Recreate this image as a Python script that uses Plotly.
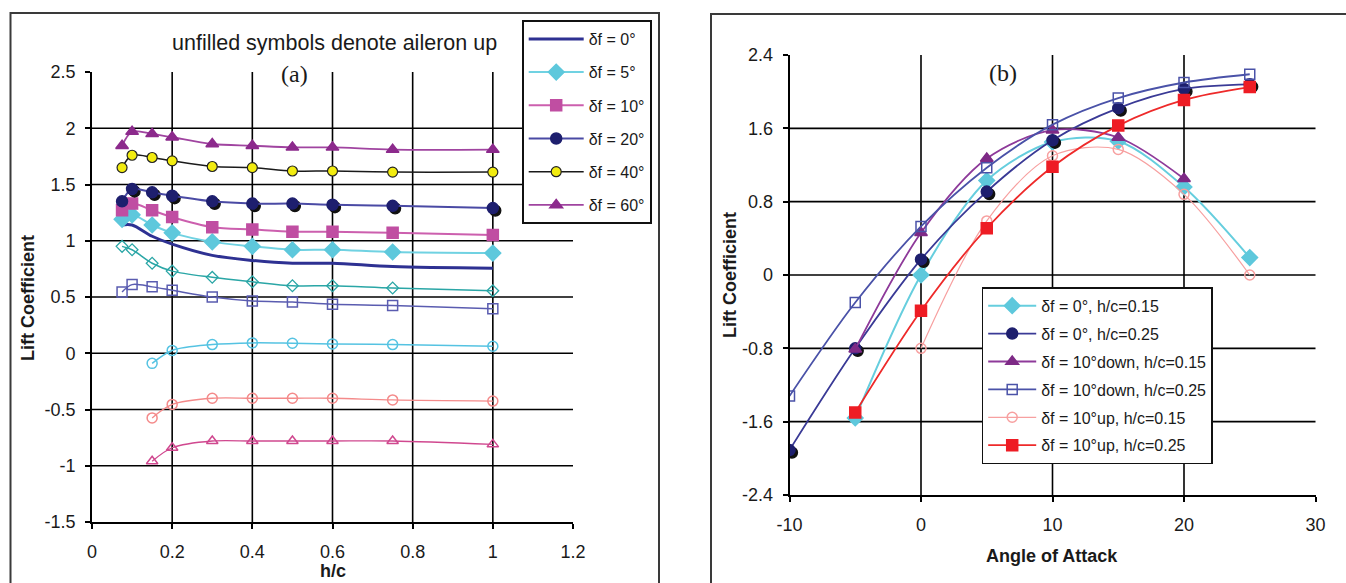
import plotly.graph_objects as go

# ---------------- panel (a): lift coefficient vs ground clearance h/c ----------------
hc = [0.075, 0.1, 0.15, 0.2, 0.3, 0.4, 0.5, 0.6, 0.75, 1.0]
hc_up = [0.15, 0.2, 0.3, 0.4, 0.5, 0.6, 0.75, 1.0]

cl_df0 = [1.14, 1.14, 1.04, 0.97, 0.87, 0.825, 0.80, 0.80, 0.77, 0.755]
cl_df5 = [1.19, 1.23, 1.14, 1.07, 0.99, 0.95, 0.92, 0.92, 0.90, 0.89]
cl_df10 = [1.27, 1.33, 1.27, 1.21, 1.12, 1.10, 1.08, 1.08, 1.07, 1.05]
cl_df20 = [1.35, 1.46, 1.43, 1.40, 1.35, 1.33, 1.33, 1.32, 1.31, 1.29]
cl_df40 = [1.65, 1.76, 1.74, 1.71, 1.66, 1.65, 1.62, 1.62, 1.61, 1.61]
cl_df60 = [1.845, 1.97, 1.95, 1.92, 1.86, 1.845, 1.83, 1.83, 1.81, 1.81]

# aileron up (unfilled symbols)
cl_up5 = [0.95, 0.92, 0.80, 0.73, 0.675, 0.635, 0.60, 0.60, 0.58, 0.555]
cl_up10 = [0.545, 0.61, 0.59, 0.56, 0.50, 0.465, 0.455, 0.435, 0.425, 0.395]
cl_up20 = [-0.09, 0.025, 0.077, 0.092, 0.089, 0.083, 0.077, 0.062]
cl_up40 = [-0.575, -0.455, -0.40, -0.40, -0.40, -0.40, -0.415, -0.425]
cl_up60 = [-0.96, -0.84, -0.78, -0.78, -0.78, -0.78, -0.78, -0.81]

a_xticks = [0, 0.2, 0.4, 0.6, 0.8, 1.0, 1.2]
a_xlabels = ["0", "0.2", "0.4", "0.6", "0.8", "1", "1.2"]
a_yticks = [-1.5, -1.0, -0.5, 0, 0.5, 1.0, 1.5, 2.0, 2.5]
a_ylabels = ["-1.5", "-1", "-0.5", "0", "0.5", "1", "1.5", "2", "2.5"]

# ---------------- panel (b): lift coefficient vs angle of attack ----------------
aoa_a = [-5, 0, 5, 10, 15, 20, 25]
aoa_b = [-10, -5, 0, 5, 10, 15, 20, 25]
aoa_c = [-5, 0, 5, 10, 15, 20]
aoa_d = [0, 5, 10, 15, 20, 25]

cl_b_f0_h15 = [-1.56, 0.0, 1.03, 1.45, 1.46, 0.96, 0.19]
cl_b_f0_h25 = [-1.91, -0.80, 0.17, 0.91, 1.47, 1.82, 2.03, 2.08]
cl_b_dn_h15 = [-0.81, 0.46, 1.27, 1.58, 1.50, 1.05]
cl_b_dn_h25 = [-1.32, -0.30, 0.53, 1.17, 1.64, 1.93, 2.10, 2.19]
cl_b_up_h15 = [-0.80, 0.59, 1.30, 1.37, 0.88, 0.0]
cl_b_up_h25 = [-1.50, -0.39, 0.51, 1.18, 1.63, 1.91, 2.05]

b_xticks = [-10, 0, 10, 20, 30]
b_xlabels = ["-10", "0", "10", "20", "30"]
b_yticks = [-2.4, -1.6, -0.8, 0, 0.8, 1.6, 2.4]
b_ylabels = ["-2.4", "-1.6", "-0.8", "0", "0.8", "1.6", "2.4"]

# ---------------- page geometry (pixels) ----------------
W, H = 1346, 583
A_X = (92, 573)
A_Y = (72, 522)
B_X = (789.5, 1315.5)
B_Y = (55, 495)
A_XR, A_YR = (0, 1.2), (-1.5, 2.5)
B_XR, B_YR = (-10, 30), (-2.4, 2.4)


def px(x):
    return x / W


def py(y):
    return 1 - y / H


def shift(vals, pixels, rng, span):
    """Move values by a fixed number of screen pixels (used for drop shadows)."""
    return [v + pixels * (rng[1] - rng[0]) / span for v in vals]


FONT = "Arial, Liberation Sans, sans-serif"
fig = go.Figure()


def add(x, y, axes, name=None, color="#000", lw=2, symbol=None, size=10,
        fill=None, mline=None, mlw=1.5, legend=None):
    mode = "lines+markers" if symbol else "lines"
    marker = None
    if symbol:
        marker = dict(symbol=symbol, size=size, color=fill if fill else color,
                      line=dict(color=mline if mline else color, width=mlw))
    fig.add_trace(go.Scatter(
        x=x, y=y, mode=mode, name=name or "",
        line=dict(color=color, width=lw, shape="spline", smoothing=0.9),
        marker=marker, xaxis=axes[0], yaxis=axes[1],
        showlegend=legend is not None, legend=legend or "legend",
        legendgroup=name if legend else None,
        hoverinfo="skip",
    ))


def shadow(x, y, axes, xr, yr, xs, ys, symbol, size, open_=False):
    fig.add_trace(go.Scatter(
        x=shift(x, 2.5, xr, xs[1] - xs[0]), y=shift(y, -2.5, yr, ys[1] - ys[0]),
        mode="markers", xaxis=axes[0], yaxis=axes[1], showlegend=False,
        marker=dict(symbol=symbol, size=size,
                    color="rgba(0,0,0,0)" if open_ else "#111",
                    line=dict(color="#111", width=1.3)),
        hoverinfo="skip",
    ))


A = ("x", "y")
B = ("x2", "y2")

# ---- panel (a), aileron up (unfilled) ----
add(hc, cl_up5, A, color="#2aa6a6", lw=1.5, symbol="diamond-open", size=9, mlw=1.3)
add(hc, cl_up10, A, color="#5a5cb0", lw=1.5, symbol="square-open", size=10, mline="#3548b0", mlw=1.5)
shadow(hc_up, cl_up20, A, A_XR, A_YR, A_X, A_Y, "circle-open", 10, open_=True)
add(hc_up, cl_up20, A, color="#55c3e2", lw=1.5, symbol="circle-open", size=10, mline="#3ab8de", mlw=1.5)
add(hc_up, cl_up40, A, color="#f48a8a", lw=1.3, symbol="circle-open", size=10, mline="#ff7a3a", mlw=1.5)
add(hc_up, cl_up60, A, color="#d0488f", lw=1.3, symbol="triangle-up-open", size=10, mline="#b02c78", mlw=1.5)

# ---- panel (a), aileron down (filled) ----
add(hc, cl_df0, A, name="δf = 0°", color="#2e3192", lw=3, legend="legend")
add(hc, cl_df5, A, name="δf = 5°", color="#70d2e2", lw=2, symbol="diamond", size=12,
    fill="#5ec8dc", mline="#5ec8dc", legend="legend")
add(hc, cl_df10, A, name="δf = 10°", color="#cc5fae", lw=2, symbol="square", size=11,
    fill="#c04ea2", mline="#c04ea2", legend="legend")
shadow(hc[1:], cl_df20[1:], A, A_XR, A_YR, A_X, A_Y, "circle", 11)
add(hc, cl_df20, A, name="δf = 20°", color="#4a4aa4", lw=2, symbol="circle", size=11,
    fill="#1e1f6e", mline="#1e1f6e", legend="legend")
add(hc, cl_df40, A, name="δf = 40°", color="#1a1a1a", lw=1.5, symbol="circle", size=10,
    fill="#f2ec10", mline="#222", mlw=1.2, legend="legend")
add(hc, cl_df60, A, name="δf = 60°", color="#a044a0", lw=1.8, symbol="triangle-up", size=11,
    fill="#8c2a8c", mline="#8c2a8c", legend="legend")

# ---- panel (b) ----
add(aoa_a, cl_b_f0_h15, B, name="δf = 0°, h/c=0.15", color="#66cede", lw=2,
    symbol="diamond", size=12, fill="#5ec8dc", mline="#5ec8dc", legend="legend2")
shadow(aoa_b, cl_b_f0_h25, B, B_XR, B_YR, B_X, B_Y, "circle", 11)
add(aoa_b, cl_b_f0_h25, B, name="δf = 0°, h/c=0.25", color="#3a3a96", lw=1.8,
    symbol="circle", size=11, fill="#1e1f6e", mline="#1e1f6e", legend="legend2")
add(aoa_c, cl_b_dn_h15, B, name="δf = 10°down, h/c=0.15", color="#8e3a9a", lw=1.8,
    symbol="triangle-up", size=11, fill="#7e2a86", mline="#7e2a86", legend="legend2")
add(aoa_b, cl_b_dn_h25, B, name="δf = 10°down, h/c=0.25", color="#4a52a8", lw=1.8,
    symbol="square-open", size=10, mline="#3040a8", mlw=1.5, legend="legend2")
add(aoa_d, cl_b_up_h15, B, name="δf = 10°up, h/c=0.15", color="#f7a0a0", lw=1.2,
    symbol="circle-open", size=10, mline="#ff7a30", mlw=1.5, legend="legend2")
add(aoa_a, cl_b_up_h25, B, name="δf = 10°up, h/c=0.25", color="#ee2a2a", lw=1.8,
    symbol="square", size=11, fill="#ee1c24", mline="#ee1c24", legend="legend2")

# ---- grid lines (interior only, as in the original chart) ----
grid = dict(color="#000", width=1.6)
for v in a_xticks[1:-1]:
    fig.add_shape(type="line", xref="x", yref="y domain", x0=v, x1=v, y0=0, y1=1,
                  line=grid, layer="below")
for v in a_yticks[1:-1]:
    fig.add_shape(type="line", xref="x domain", yref="y", x0=0, x1=1, y0=v, y1=v,
                  line=grid, layer="below")
for v in b_xticks[1:-1]:
    fig.add_shape(type="line", xref="x2", yref="y2 domain", x0=v, x1=v, y0=0, y1=1,
                  line=grid, layer="below")
for v in b_yticks[1:-1]:
    fig.add_shape(type="line", xref="x2 domain", yref="y2", x0=0, x1=1, y0=v, y1=v,
                  line=grid, layer="below")

# ---- outer frames around each panel ----
frame = dict(color="#3a3a3a", width=2)
fig.add_shape(type="rect", xref="paper", yref="paper", x0=px(10.5), x1=px(659),
              y0=py(590), y1=py(13), line=frame, layer="below")
fig.add_shape(type="rect", xref="paper", yref="paper", x0=px(711), x1=px(1352),
              y0=py(590), y1=py(14), line=frame, layer="below")

tickfont = dict(family=FONT, size=18, color="#1a1a1a")
axis_common = dict(showgrid=False, zeroline=False, showline=True, linecolor="#000",
                   linewidth=1.6, ticks="outside", ticklen=5, tickwidth=1.5,
                   tickcolor="#000", tickfont=tickfont, tickmode="array", fixedrange=True)


def label(text, x, y, size=18, family=FONT, angle=0):
    return dict(text=text, xref="paper", yref="paper", x=px(x), y=py(y),
                xanchor="center", yanchor="middle", showarrow=False, textangle=angle,
                font=dict(family=family, size=size, color="#1a1a1a"))


SERIF = "Liberation Serif, Times New Roman, serif"

fig.update_layout(
    width=W, height=H, margin=dict(l=0, r=0, t=0, b=0, autoexpand=False),
    paper_bgcolor="#fff", plot_bgcolor="rgba(0,0,0,0)",
    font=dict(family=FONT, color="#1a1a1a"),
    xaxis=dict(axis_common, domain=[px(A_X[0]), px(A_X[1])], range=list(A_XR),
               tickvals=a_xticks, ticktext=a_xlabels, anchor="y", ticklabelstandoff=8),
    yaxis=dict(axis_common, domain=[py(A_Y[1]), py(A_Y[0])], range=list(A_YR),
               tickvals=a_yticks, ticktext=a_ylabels, anchor="x", ticklabelstandoff=6),
    xaxis2=dict(axis_common, domain=[px(B_X[0]), px(B_X[1])], range=list(B_XR),
                tickvals=b_xticks, ticktext=b_xlabels, anchor="y2", ticklabelstandoff=8),
    yaxis2=dict(axis_common, domain=[py(B_Y[1]), py(B_Y[0])], range=list(B_YR),
                tickvals=b_yticks, ticktext=b_ylabels, anchor="x2", ticklabelstandoff=6),
    legend=dict(x=px(521.7), y=py(20), xanchor="left", yanchor="top",
                bgcolor="#fff", bordercolor="#111", borderwidth=2,
                font=dict(family=FONT, size=16, color="#1a1a1a"),
                tracegroupgap=9.4, itemwidth=55, traceorder="grouped"),
    legend2=dict(x=px(981.7), y=py(287.3), xanchor="left", yanchor="top",
                 bgcolor="#fff", bordercolor="#111", borderwidth=1.5,
                 font=dict(family=FONT, size=16, color="#1a1a1a"),
                 tracegroupgap=4.1, itemwidth=48, traceorder="grouped"),
    annotations=[
        label("unfilled symbols denote aileron up", 334, 43, size=21.5),
        label("(a)", 294, 74, size=24, family=SERIF),
        label("(b)", 1003, 73, size=24, family=SERIF),
        label("<b>Lift Coefficient</b>", 28, 298, angle=-90),
        label("<b>h/c</b>", 333, 571),
        label("<b>Lift Coefficient</b>", 730, 275, angle=-90),
        label("<b>Angle of Attack</b>", 1052, 556),
    ],
)

fig.write_html(
    "out.html",
    config={"displayModeBar": False},
    post_script="document.body.style.margin='0';document.body.style.overflow='hidden';",
)
